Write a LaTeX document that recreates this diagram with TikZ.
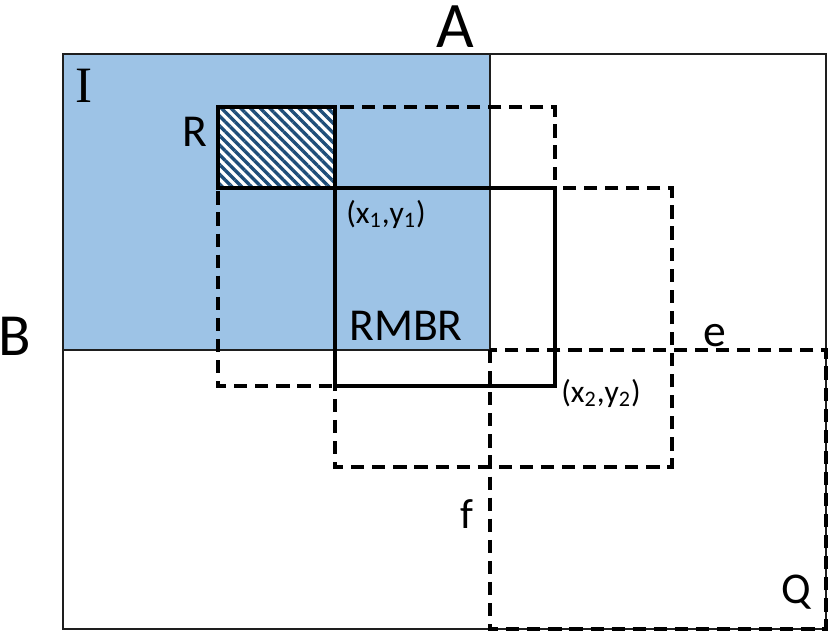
\documentclass[tikz,border=0pt]{standalone}
\usepackage{fontspec}
\setmainfont{Carlito}
\newfontfamily\romanI{Liberation Serif}
\usepackage{xcolor}
\definecolor{skyfill}{RGB}{157, 195, 230}
\definecolor{hatchblue}{RGB}{ 31,  78, 121}
\definecolor{edgegray}{RGB}{ 30,  30,  30}
\usepackage{tikz}
\usetikzlibrary{patterns.meta}
\tikzset{
  frame/.style={draw=edgegray, line width=0.8pt},
  zone/.style={fill=skyfill, draw=edgegray, line width=0.8pt},
  solidbox/.style={draw=black, line width=2pt},
  dashbox/.style={draw=black, line width=2pt, dash pattern=on 7.5pt off 4.5pt},
  hatchbox/.style={solidbox,
    pattern={Lines[angle=-45, distance=3.9pt, line width=1.9pt]},
    pattern color=hatchblue},
  lbl/.style={inner sep=0pt, anchor=base}
}

\begin{document}
\begin{tikzpicture}[x=0.02cm, y=-0.02cm]

  \useasboundingbox (0,0) rectangle (830,633);

  % outer space and the region I
  \draw[frame] (63,54) rectangle (826,629);
  \draw[zone]  (63,54) rectangle (490,350);

  % candidate windows
  \draw[dashbox] (218,107) rectangle (555,386);
  \draw[dashbox] (335,188) rectangle (672,467);
  \draw[dashbox] (490,350) rectangle (826,629);

  % the rectangle R and its RMBR
  \fill[white] (218,107) rectangle (335,188);
  \draw[hatchbox] (218,107) rectangle (335,188);
  \draw[solidbox] (335,188) rectangle (555,386);

  \node[lbl, font=\fontsize{37}{37}\selectfont] (labA) at (455,47) {A};
  \node[lbl, font=\fontsize{34}{34}\selectfont] (labB) at (15,355) {B};
  \node[lbl, font=\romanI\fontsize{29}{29}\selectfont] (labI) at (84,102) {I};
  \node[lbl, font=\fontsize{26}{26}\selectfont] (labR) at (195,146) {R};
  \node[lbl, font=\fontsize{26}{26}\selectfont] (labRMBR) at (406,340) {RMBR};
  \node[lbl, font=\fontsize{18}{18}\selectfont] (labxy1) at (386,223) {(x\textsubscript{1},y\textsubscript{1})};
  \node[lbl, font=\fontsize{18}{18}\selectfont] (labxy2) at (601,402) {(x\textsubscript{2},y\textsubscript{2})};
  \node[lbl, font=\fontsize{26}{26}\selectfont] (labe) at (715,346) {e};
  \node[lbl, font=\fontsize{24}{24}\selectfont] (labf) at (467,528) {f};
  \node[lbl, font=\fontsize{25}{25}\selectfont] (labQ) at (796,603) {Q};

\end{tikzpicture}
\end{document}
